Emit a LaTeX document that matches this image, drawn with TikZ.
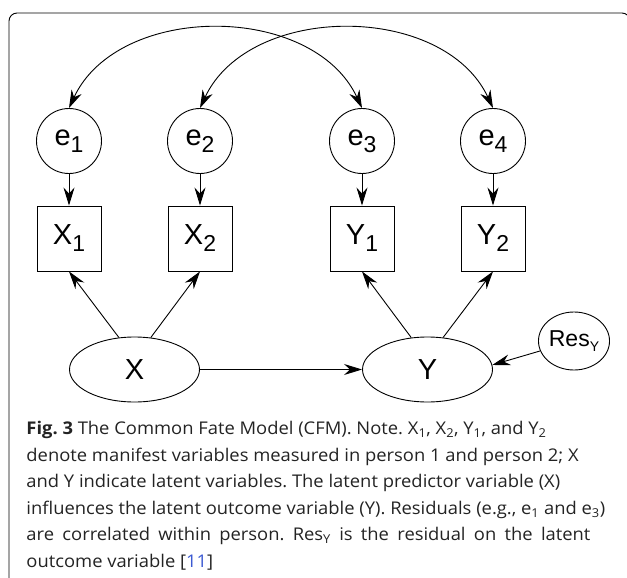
\documentclass[tikz,border=0pt]{standalone}
\usepackage{fontspec}
\setmainfont{Open Sans}[FakeStretch=1.05]
\newfontfamily\diagfont{Liberation Sans}
\usetikzlibrary{shapes,arrows.meta,positioning}
\definecolor{refblue}{RGB}{60,90,210}
\definecolor{captiongray}{RGB}{35,35,35}
\newcommand{\varlbl}[2]{#1\raisebox{-7pt}{\fontsize{23}{23}\selectfont #2}}
\frenchspacing

\begin{document}
\begin{tikzpicture}[node distance=131pt, auto, line width=0.9pt,
    >={Stealth[length=18pt, width=11pt, inset=6pt]},
    err/.style={circle, draw, minimum size=65pt, inner sep=0pt, font=\diagfont\fontsize{29}{29}\selectfont},
    obs/.style={rectangle, draw, minimum width=64pt, minimum height=65pt, inner sep=0pt, font=\diagfont\fontsize{29}{29}\selectfont},
    lat/.style={ellipse, draw, minimum width=130pt, minimum height=65pt, inner sep=0pt, font=\diagfont\fontsize{29}{29}\selectfont},
    res/.style={ellipse, draw, minimum width=64pt, minimum height=58pt, inner sep=0pt, font=\diagfont\fontsize{23}{23}\selectfont}]
    \useasboundingbox (0pt,0pt) rectangle (627pt,-578pt);
    \clip (0pt,0pt) rectangle (627pt,-578pt);
    \draw[rounded corners=8pt] (9pt,-590pt) -- (9pt,-13pt) -- (630pt,-13pt) -- (630pt,-590pt);

    \node (e1) [err] at (69pt,-141pt) {\varlbl{e}{1}};
    \node (e2) [err, right of=e1] {\varlbl{e}{2}};
    \node (e3) [err, right of=e2, node distance=162pt] {\varlbl{e}{3}};
    \node (e4) [err, right of=e3] {\varlbl{e}{4}};
    \node (x1) [obs, below of=e1, node distance=97.5pt] {\varlbl{X}{1}};
    \node (x2) [obs, below of=e2, node distance=97.5pt] {\varlbl{X}{2}};
    \node (y1) [obs, below of=e3, node distance=97.5pt] {\varlbl{Y}{1}};
    \node (y2) [obs, below of=e4, node distance=97.5pt] {\varlbl{Y}{2}};
    \node (x) [lat] at (134.5pt,-369.5pt) {X};
    \node (y) [lat, right of=x, node distance=293pt] {Y};
    \node (resy) [res] at (574pt,-341pt) {Res\raisebox{-5pt}{\fontsize{14}{14}\selectfont Y}};

    \draw[<->] (e1.north) to[out=65, in=115, looseness=1.02] (e3.north);
    \draw[<->] (e2.north) to[out=65, in=115, looseness=1.02] (e4.north);
    \draw[->] (e1) -- (x1);
    \draw[->] (e2) -- (x2);
    \draw[->] (e3) -- (y1);
    \draw[->] (e4) -- (y2);
    \draw[->] (x.116) -- (x1.south);
    \draw[->] (x.63) -- (x2.south);
    \draw[->] (y.117) -- (y1.south);
    \draw[->] (y.64) -- (y2.south);
    \draw[->] (x) -- (y);
    \draw[->] (resy) -- (y.4);

    \node (caption) [anchor=north west, inner sep=0pt, align=left, text=captiongray, font=\fontsize{17.5}{26.5}\selectfont] at (26pt,-421pt) {\textbf{Fig. 3} The Common Fate Model (CFM). Note. X\textsubscript{1}, X\textsubscript{2}, Y\textsubscript{1}, and Y\textsubscript{2}\\
    denote manifest variables measured in person 1 and person 2; X\\
    and Y indicate latent variables. The latent predictor variable (X)\\
    influences the latent outcome variable (Y). Residuals (e.g., e\textsubscript{1} and e\textsubscript{3})\\
    \makebox[564pt][s]{are correlated within person. Res\textsubscript{Y} is the residual on the latent}\\
    outcome variable [{\color{refblue}11}]};
\end{tikzpicture}
\end{document}
